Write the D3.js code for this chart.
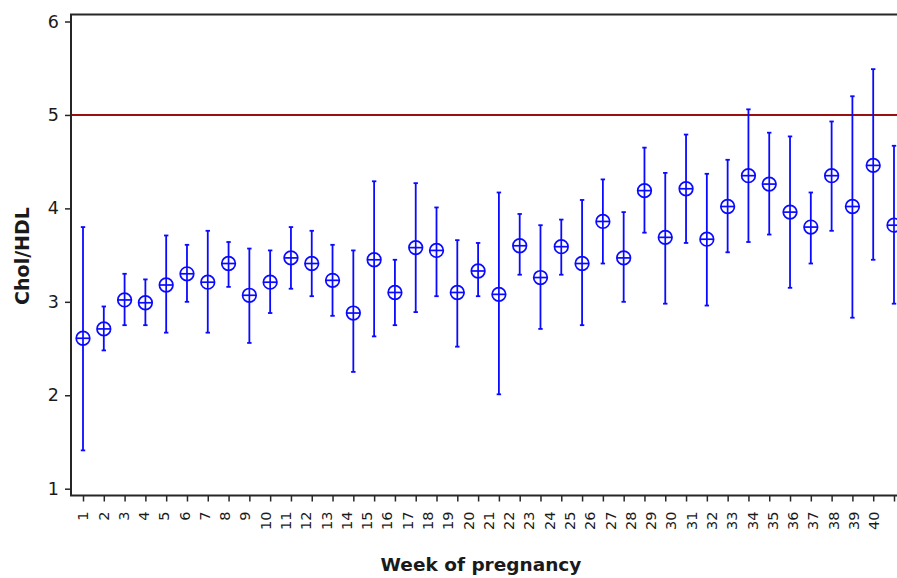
<!DOCTYPE html>
<html>
<head>
<meta charset="utf-8">
<script src="https://cdn.jsdelivr.net/npm/d3@7"></script>
<style>
  html, body { margin: 0; padding: 0; background: #fff; }
  svg { display: block; }
  text { font-family: "DejaVu Sans", Verdana, sans-serif; fill: #1a1a1a; }
</style>
</head>
<body>
<svg id="chart" width="897" height="578"></svg>
<script>
// Week of pregnancy categories
const weeks = [1, 2, 3, 4, 5, 6, 7, 8, 9, 10, 11, 12, 13, 14, 15, 16, 17, 18, 19, 20,
               21, 22, 23, 24, 25, 26, 27, 28, 29, 30, 31, 32, 33, 34, 35, 36, 37, 38, 39, 40];
// Mean Chol/HDL ratio per week
const means = [2.61, 2.71, 3.02, 2.99, 3.18, 3.30, 3.21, 3.41, 3.07, 3.21,
               3.47, 3.41, 3.23, 2.88, 3.45, 3.10, 3.58, 3.55, 3.10, 3.33,
               3.08, 3.60, 3.26, 3.59, 3.41, 3.86, 3.47, 4.19, 3.69, 4.21,
               3.67, 4.02, 4.35, 4.26, 3.96, 3.80, 4.35, 4.02, 4.46, 3.82];
// Upper and lower interval limits
const upper = [3.80, 2.95, 3.30, 3.24, 3.71, 3.61, 3.76, 3.64, 3.57, 3.55,
               3.80, 3.76, 3.61, 3.55, 4.29, 3.45, 4.27, 4.01, 3.66, 3.63,
               4.17, 3.94, 3.82, 3.88, 4.09, 4.31, 3.96, 4.65, 4.38, 4.79,
               4.37, 4.52, 5.06, 4.81, 4.77, 4.17, 4.93, 5.20, 5.49, 4.67];
const lower = [1.41, 2.48, 2.75, 2.75, 2.67, 3.00, 2.67, 3.16, 2.56, 2.88,
               3.14, 3.06, 2.85, 2.25, 2.63, 2.75, 2.89, 3.06, 2.52, 3.06,
               2.01, 3.29, 2.71, 3.29, 2.75, 3.41, 3.00, 3.74, 2.98, 3.63,
               2.96, 3.53, 3.64, 3.72, 3.15, 3.41, 3.76, 2.83, 3.45, 2.98];
// Y axis ticks and reference level
const yTicks = [1, 2, 3, 4, 5, 6];
const refLevel = 5;

const svg = d3.select("#chart");
const W = 897, H = 578;
const frame = { left: 71, top: 14.5, bottom: 495.5, right: W };

const x = d3.scalePoint().domain(weeks).range([83, 894]);
const xLabel = d3.scalePoint().domain(weeks).range([83, 874]);
const y = d3.scaleLinear().domain([1, 6]).range([488.7, 21.5]);

const blue = "#0a0aff";
const axisColor = "#262626";

// Reference line
svg.append("line")
  .attr("x1", frame.left).attr("x2", frame.right)
  .attr("y1", y(refLevel)).attr("y2", y(refLevel))
  .attr("stroke", "#9a0f0f").attr("stroke-width", 2);

// Y axis
const yAxis = svg.append("g")
  .attr("transform", `translate(${frame.left},0)`)
  .call(d3.axisLeft(y).tickValues(yTicks).tickFormat(d3.format("d")).tickSize(6).tickPadding(6));
yAxis.select(".domain").remove();
yAxis.selectAll(".tick line").attr("stroke", axisColor).attr("stroke-width", 1.5);
yAxis.selectAll(".tick text").attr("font-size", 17.5).attr("fill", "#1a1a1a")
  .style("font-family", "'DejaVu Sans', Verdana, sans-serif");

// X axis tick marks
const xAxis = svg.append("g")
  .attr("transform", `translate(0,${frame.bottom})`)
  .call(d3.axisBottom(x).tickFormat("").tickSize(6));
xAxis.select(".domain").remove();
xAxis.selectAll(".tick line").attr("stroke", axisColor).attr("stroke-width", 1.5);

// X tick labels (rotated)
svg.append("g").selectAll("text")
  .data(weeks)
  .join("text")
  .attr("transform", d => `translate(${xLabel(d)},${frame.bottom + 16}) rotate(-90)`)
  .attr("text-anchor", "end")
  .attr("dy", "0.36em")
  .attr("font-size", 14.5)
  .text(d => d);

// Frame lines
svg.append("path")
  .attr("d", `M${frame.right},${frame.top}H${frame.left}V${frame.bottom}H${frame.right}`)
  .attr("fill", "none").attr("stroke", axisColor).attr("stroke-width", 2);

// Interval bars
const rows = weeks.map((w, i) => ({ w, m: means[i], hi: upper[i], lo: lower[i] }));
const g = svg.append("g").attr("stroke", blue).attr("fill", "none");
const cap = 2.2;
const r = 6.8;
const bars = g.selectAll("g.bar").data(rows).join("g").attr("class", "bar");
bars.append("line")
  .attr("x1", d => x(d.w)).attr("x2", d => x(d.w))
  .attr("y1", d => y(d.hi)).attr("y2", d => y(d.lo))
  .attr("stroke-width", 1.8);
bars.append("line")
  .attr("x1", d => x(d.w) - cap).attr("x2", d => x(d.w) + cap)
  .attr("y1", d => y(d.hi)).attr("y2", d => y(d.hi))
  .attr("stroke-width", 1.8);
bars.append("line")
  .attr("x1", d => x(d.w) - cap).attr("x2", d => x(d.w) + cap)
  .attr("y1", d => y(d.lo)).attr("y2", d => y(d.lo))
  .attr("stroke-width", 1.8);
bars.append("circle")
  .attr("cx", d => x(d.w)).attr("cy", d => y(d.m)).attr("r", r)
  .attr("fill", "#fff").attr("stroke-width", 1.7);
bars.append("line")
  .attr("x1", d => x(d.w) - r).attr("x2", d => x(d.w) + r)
  .attr("y1", d => y(d.m)).attr("y2", d => y(d.m))
  .attr("stroke-width", 1.7);
bars.append("line")
  .attr("x1", d => x(d.w)).attr("x2", d => x(d.w))
  .attr("y1", d => y(d.m) - r).attr("y2", d => y(d.m) + r)
  .attr("stroke-width", 1.7);

// Axis titles
svg.append("text")
  .attr("x", 481).attr("y", 571)
  .attr("text-anchor", "middle")
  .attr("font-size", 18.5).attr("font-weight", "bold")
  .text("Week of pregnancy");

svg.append("text")
  .attr("transform", "translate(29,256) rotate(-90)")
  .attr("text-anchor", "middle")
  .attr("font-size", 19).attr("font-weight", "bold")
  .text("Chol/HDL");
</script>
</body>
</html>
